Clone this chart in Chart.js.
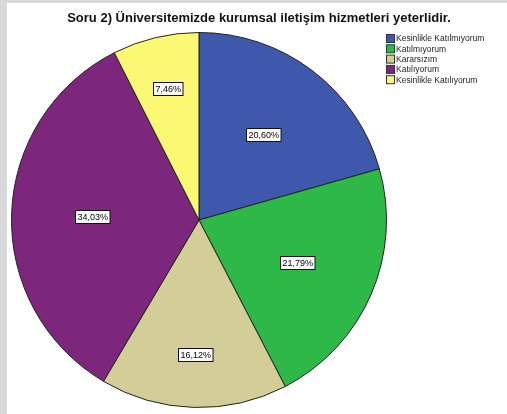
<!DOCTYPE html>
<html>
<head>
<meta charset="utf-8">
<script src="https://cdn.jsdelivr.net/npm/chart.js@4/dist/chart.umd.min.js"></script>
<style>
  html, body { margin: 0; padding: 0; background: #d9d9d9; }
  #wrap { position: absolute; left: 7px; top: 3px; width: 500px; height: 411px; background: #fff; }
  canvas { display: block; }
</style>
</head>
<body>
<div id="wrap"><canvas id="pieChart" width="500" height="411"></canvas></div>
<script>
const chartTitle = 'Soru 2) Üniversitemizde kurumsal iletişim hizmetleri yeterlidir.';
const answers = ['Kesinlikle Katılmıyorum', 'Katılmıyorum', 'Kararsızım', 'Katılıyorum', 'Kesinlikle Katılıyorum'];
const percents = [20.60, 21.79, 16.12, 34.03, 7.46];
const sliceColors = ['#3e58ac', '#2eb848', '#d3ce97', '#7c277c', '#fbf873'];

var fmt = function(v) {
  return v.toFixed(2).replace('.', ',') + '%';
};

// title, legend and the boxed percent labels
var extras = {
  id: 'extras',
  afterDraw: function(chart) {
    var ctx = chart.ctx;
    ctx.save();
    ctx.fillStyle = '#111';
    ctx.font = 'bold 13px Arial, "Liberation Sans", sans-serif';
    ctx.textAlign = 'center';
    ctx.textBaseline = 'alphabetic';
    ctx.fillText(chartTitle, 252, 19);

    // legend
    ctx.font = '8.5px Arial, "Liberation Sans", sans-serif';
    ctx.textAlign = 'left';
    ctx.textBaseline = 'middle';
    for (var i = 0; i < answers.length; i++) {
      var y = 35.5 + i * 10.3;
      ctx.fillStyle = sliceColors[i];
      ctx.fillRect(379.5, y - 4, 8, 8);
      ctx.strokeStyle = '#333';
      ctx.lineWidth = 1;
      ctx.strokeRect(379.5, y - 4, 8, 8);
      ctx.fillStyle = '#222';
      ctx.fillText(answers[i], 389, y + 0.5);
    }

    // slice labels
    var meta = chart.getDatasetMeta(0);
    ctx.font = '9px Arial, "Liberation Sans", sans-serif';
    ctx.textAlign = 'center';
    meta.data.forEach(function(arc, idx) {
      var p = arc.getProps(['x', 'y', 'startAngle', 'endAngle', 'outerRadius'], true);
      var mid = (p.startAngle + p.endAngle) / 2;
      var frac = percents[idx] < 20 ? 0.72 : 0.57;
      var lx = p.x + Math.cos(mid) * p.outerRadius * frac;
      var ly = p.y + Math.sin(mid) * p.outerRadius * frac;
      var txt = fmt(percents[idx]);
      var w = ctx.measureText(txt).width + 4;
      var h = 13;
      var bx = Math.round(lx - w / 2) + 0.5;
      var by = Math.round(ly - h / 2) + 0.5;
      ctx.fillStyle = '#fff';
      ctx.fillRect(bx, by, w, h);
      ctx.strokeStyle = '#111';
      ctx.strokeRect(bx, by, w, h);
      ctx.fillStyle = '#000';
      ctx.fillText(txt, bx + w / 2, by + h / 2 + 0.5);
    });
    ctx.restore();
  }
};

var chartPie = new Chart(document.getElementById('pieChart'), {
  type: 'pie',
  data: {
    labels: answers,
    datasets: [{
      data: percents,
      backgroundColor: sliceColors,
      borderColor: '#222',
      borderWidth: 1
    }]
  },
  options: {
    responsive: false,
    animation: false,
    layout: {
      padding: { left: 4, top: 29, right: 120, bottom: 6 }
    },
    plugins: {
      legend: { display: false },
      title: { display: false },
      tooltip: { enabled: false }
    }
  },
  plugins: [extras]
});
</script>
</body>
</html>
